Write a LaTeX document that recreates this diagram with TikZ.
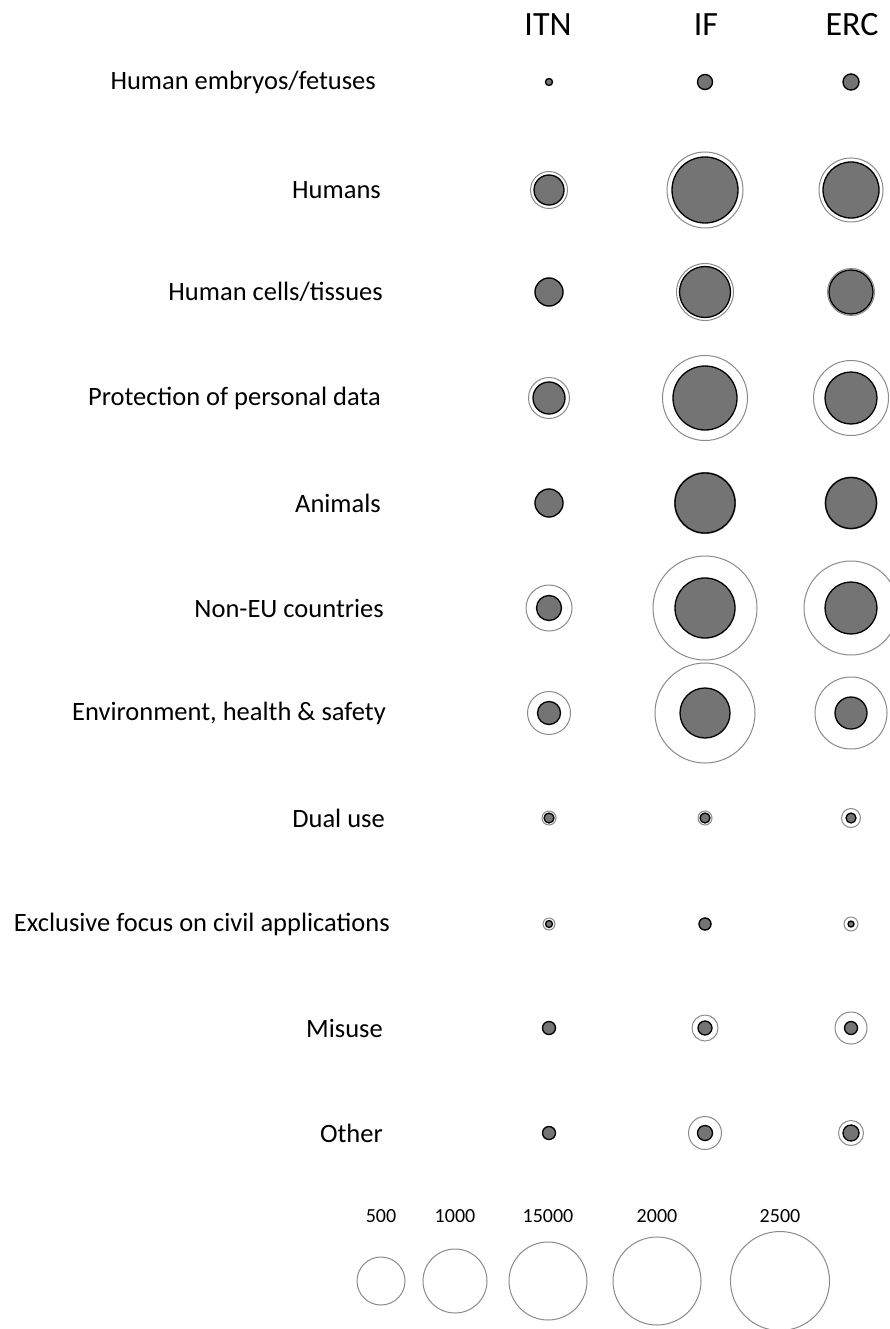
\documentclass[tikz,border=0pt]{standalone}
\usepackage{fontspec}
\setmainfont{Carlito}
\usepackage{tikz}

\definecolor{bubblefill}{HTML}{747474}
\definecolor{ringgray}{HTML}{8A8A8A}

\begin{document}
\begin{tikzpicture}[x=1pt, y=-1pt,
	dot/.style={circle, inner sep=0pt, fill=bubblefill, draw=black, line width=1.3pt},
	ring/.style={circle, inner sep=0pt, draw=ringgray, line width=1pt},
	rowlabel/.style={anchor=east, inner sep=0pt, font=\fontsize{26.5}{30}\selectfont},
	colhead/.style={font=\fontsize{34}{40}\selectfont},
	keylabel/.style={font=\fontsize{20}{24}\selectfont}]
	\useasboundingbox (0,0) rectangle (890,1329);
	% column headings
	\node[colhead] (hITN) at (548,25) {ITN};
	\node[colhead] (hIF) at (706,25) {IF};
	\node[colhead] (hERC) at (852,25) {ERC};
	% rows: y / label end / label / ITN inner,outer / IF inner,outer / ERC inner,outer
	\foreach \i/\y/\e/\txt/\ai/\ao/\bi/\bo/\ci/\co in {
		1/82/376/{Human embryos/fetuses}/3.5/3.5/7.5/7.5/8/8,
		2/190/381/Humans/15/18.5/33/38/28/32,
		3/292/383/{Human cells/tissues}/14/14/25.5/28.5/22/23.5,
		4/398/381/{Protection of personal data}/16/20.5/32/42.5/26/37.5,
		5/503/381/Animals/14/14/30/30.5/25.5/26,
		6/608/384/{Non-EU countries}/12.5/23/30/52/26/47,
		7/713/386/{Environment, health \& safety}/11.5/21.5/25/50/16/36,
		8/818/385/{Dual use}/5/7/5/7/5/9.5,
		9/924/390/{Exclusive focus on civil applications}/3.5/6/6/6/3/7,
		10/1028/383/Misuse/6.5/6.5/7/13/6.5/16,
		11/1133/383/Other/6.5/6.5/7.5/16.5/8/12.5}{
		\node[rowlabel] (lbl\i) at (\e,\y) {\txt};
		\node[ring, minimum size=2*\ao] (itnR\i) at (549,\y) {};
		\node[dot, minimum size=2*\ai] (itn\i) at (549,\y) {};
		\node[ring, minimum size=2*\bo] (ifR\i) at (705,\y) {};
		\node[dot, minimum size=2*\bi] (if\i) at (705,\y) {};
		\node[ring, minimum size=2*\co] (ercR\i) at (851,\y) {};
		\node[dot, minimum size=2*\ci] (erc\i) at (851,\y) {};
	}
	% size key
	\foreach \k/\x/\r/\val in {1/381/24/500, 2/455/32/1000, 3/548/39/15000, 4/657/44/2000, 5/780/49.5/2500}{
		\node[keylabel] (keyval\k) at (\x,1216) {\val};
		\node[ring, minimum size=2*\r] (key\k) at (\x,1281) {};
	}
\end{tikzpicture}
\end{document}
